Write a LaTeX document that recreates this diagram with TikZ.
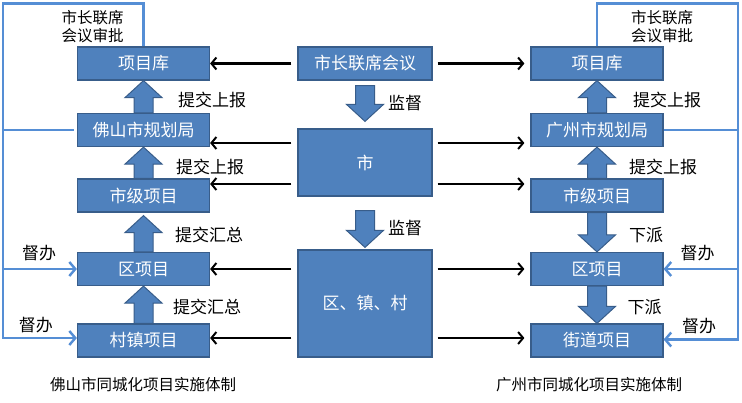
\documentclass[tikz,border=0pt]{standalone}
\usepackage{fontspec}
\setmainfont{Noto Sans CJK SC}
\usetikzlibrary{arrows.meta,calc}
\definecolor{boxblue}{RGB}{79,129,189}
\definecolor{boxedge}{RGB}{56,93,138}
\definecolor{framebl}{RGB}{85,142,213}
\newcommand{\blkarr}[3]{\draw[blkarrow] ([xshift=-9.5pt]#1) -- ([xshift=-9.5pt,yshift=#3]#2) -- ([xshift=-18.5pt,yshift=#3]#2) -- (#2) -- ([xshift=18.5pt,yshift=#3]#2) -- ([xshift=9.5pt,yshift=#3]#2) -- ([xshift=9.5pt]#1) -- cycle;}
\tikzset{
  box/.style={draw=boxedge, line width=1.2pt, fill=boxblue, text=white, minimum width=132pt, minimum height=33pt, inner sep=0pt, font=\fontsize{17}{20}\selectfont},
  blkarrow/.style={draw=boxedge, line width=1pt, fill=boxblue, line join=miter},
  barr/.style={line width=2.2pt, -{Straight Barb[length=5pt,width=12pt,line width=2pt]}},
  frameln/.style={draw=framebl, line width=2.6pt},
  farr/.style={frameln, -{Straight Barb[length=6pt,width=14pt,line width=2.4pt]}},
  lbl/.style={font=\fontsize{17}{20}\selectfont, inner sep=0pt},
  small/.style={font=\fontsize{15.5}{18}\selectfont, inner sep=0pt, align=center},
}
\begin{document}
\begin{tikzpicture}[x=1pt,y=-1pt]
\useasboundingbox[fill=white] (0,0) rectangle (742,403);
% left column
\node[box] (lib1) at (143.5,63.5) {项目库};
\node[box] (plan1) at (143.5,130) {佛山市规划局};
\node[box] (mid1) at (143.5,195.5) {市级项目};
\node[box] (dist1) at (143.5,269) {区项目};
\node[box] (vil1) at (143.5,340.5) {村镇项目};
% centre column
\node[box, minimum width=134pt] (meet) at (365,63.5) {市长联席会议};
\node[box, minimum width=134pt, minimum height=67pt] (shi) at (365,162.5) {市};
\node[box, minimum width=134pt, minimum height=107pt] (zhen) at (365,303.5) {区、镇、村};
% right column
\node[box] (lib2) at (597,63.5) {项目库};
\node[box] (plan2) at (597,130) {广州市规划局};
\node[box] (mid2) at (597,195.5) {市级项目};
\node[box] (dist2) at (597,269) {区项目};
\node[box] (str2) at (597,340.5) {街道项目};

% block arrows left (up)
\blkarr{plan1.north}{lib1.south}{-17pt}
\blkarr{mid1.north}{plan1.south}{-17pt}
\coordinate (t3) at ([yshift=-3pt]mid1.south);
\blkarr{dist1.north}{t3}{-17pt}
\blkarr{vil1.north}{dist1.south}{-17pt}
% block arrows right
\blkarr{plan2.north}{lib2.south}{-17pt}
\blkarr{mid2.north}{plan2.south}{-17pt}
\blkarr{mid2.south}{dist2.north}{17pt}
\blkarr{dist2.south}{str2.north}{17pt}
% centre arrows (down)
\coordinate (c1) at ([yshift=-5pt]meet.south);
\coordinate (c2) at ([yshift=7pt]shi.north);
\coordinate (c3) at ([yshift=-14pt]shi.south);
\coordinate (c4) at ([yshift=2pt]zhen.north);
\blkarr{c1}{c2}{17pt}
\blkarr{c3}{c4}{17pt}

% black arrows
\coordinate (mW) at ([xshift=-6pt]meet.west);
\coordinate (mE) at ([xshift=5pt]meet.east);
\coordinate (sW) at ([xshift=-6pt]shi.west);
\coordinate (sE) at ([xshift=5pt]shi.east);
\coordinate (zW) at ([xshift=-6pt]zhen.west);
\coordinate (zE) at ([xshift=5pt]zhen.east);
\coordinate (a2) at ([yshift=-13pt]plan1.east);
\coordinate (a3) at ([yshift=11.5pt]mid1.east);
\coordinate (b2) at ([yshift=-13pt]plan2.west);
\coordinate (b3) at ([yshift=11.5pt]mid2.west);
\coordinate (a5) at ([yshift=2.5pt]vil1.east);
\coordinate (b5) at ([yshift=2.5pt]str2.west);
\draw[barr] (mW) -- (lib1.east);
\draw[barr] (a2 -| sW) -- (a2);
\draw[barr] (a3 -| sW) -- (a3);
\draw[barr] (dist1.east -| zW) -- (dist1.east);
\draw[barr] (a5 -| zW) -- (a5);
\draw[barr, shorten >=6pt] (mE) -- (lib2.west);
\draw[barr, shorten >=6pt] (b2 -| sE) -- (b2);
\draw[barr, shorten >=6pt] (b3 -| sE) -- (b3);
\draw[barr, shorten >=6pt] (dist2.west -| zE) -- (dist2.west);
\draw[barr, shorten >=6pt] (b5 -| zE) -- (b5);

% blue frames
\coordinate (L) at (3,3.5);
\coordinate (R) at (738,3.5);
\draw[farr] (lib1.north) |- (L) |- ([yshift=2.5pt]vil1.west);
\draw[frameln] (plan1.west -| L) -- ([xshift=-3pt]plan1.west);
\draw[farr] (dist1.west -| L) -- (dist1.west);
\draw[farr] (lib2.north) |- (R) |- ([yshift=1pt]str2.east);
\draw[frameln] (plan2.east -| R) -- (plan2.east);
\draw[farr] (dist2.east -| R) -- (dist2.east);

% labels
\node[small] (n1) at (92.5,27) {市长联席\\会议审批};
\node[small] (n2) at (662,27) {市长联席\\会议审批};
\node[lbl] (l1) at (212,100) {提交上报};
\node[lbl] (l2) at (210,167) {提交上报};
\node[lbl] (l3) at (209,235) {提交汇总};
\node[lbl] (l4) at (207,307) {提交汇总};
\node[lbl] (l5) at (39,253) {督办};
\node[lbl] (l6) at (36,325) {督办};
\node[lbl] (r1) at (667,100) {提交上报};
\node[lbl] (r2) at (663,167) {提交上报};
\node[lbl] (r3) at (646,235) {下派};
\node[lbl] (r4) at (644.5,307) {下派};
\node[lbl] (r5) at (697.5,253) {督办};
\node[lbl] (r6) at (699,326) {督办};
\node[lbl] (m1) at (405,103) {监督};
\node[lbl] (m2) at (405,228) {监督};
\node[small] (cap1) at (143,385) {佛山市同城化项目实施体制};
\node[small] (cap2) at (589,385) {广州市同城化项目实施体制};
\end{tikzpicture}
\end{document}
